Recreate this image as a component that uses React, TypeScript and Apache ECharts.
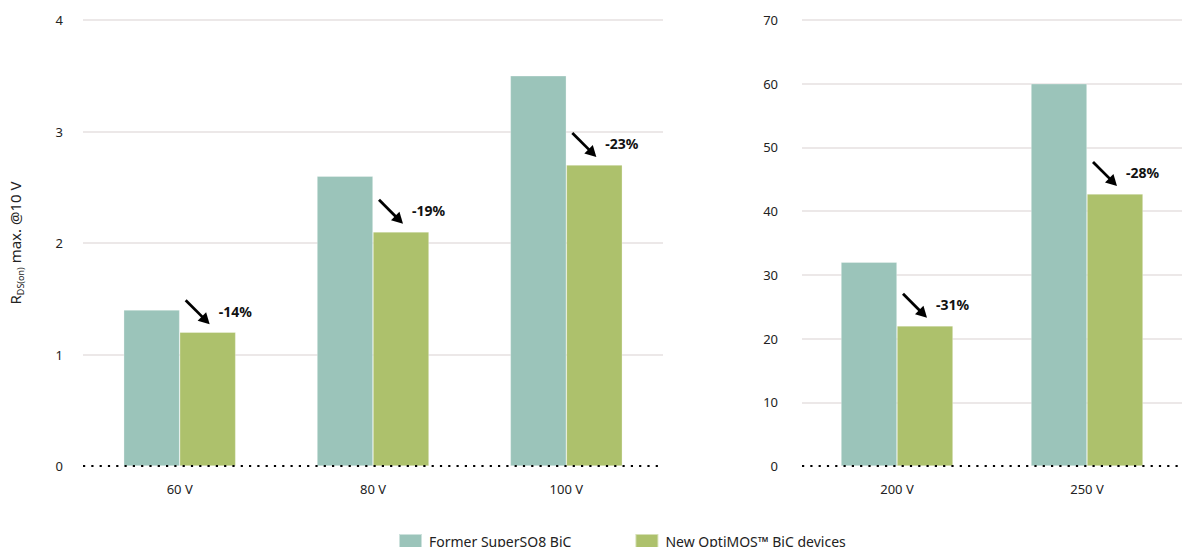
import React, { useEffect, useRef } from "react";
import * as echarts from "echarts";

const leftCategories = ["60 V", "80 V", "100 V"];
const leftFormer = [1.4, 2.6, 3.5];
const leftNew = [1.2, 2.1, 2.7];
const leftPct = ["-14%", "-19%", "-23%"];

const rightCategories = ["200 V", "250 V"];
const rightFormer = [32, 60];
const rightNew = [22, 42.7];
const rightPct = ["-31%", "-28%"];

const seriesNames = ["Former SuperSO8 BiC", "New OptiMOS™ BiC devices"];
const TEAL = "#9bc4ba";
const GREEN = "#adc16c";
const FONT = "Noto Sans";

function makeAnnotation(labels: string[], values: number[], axisIndex: number) {
  return {
    type: "custom",
    xAxisIndex: axisIndex,
    yAxisIndex: axisIndex,
    silent: true,
    z: 20,
    data: values.map((v, i) => [i, v]),
    renderItem: (params: any, api: any) => {
      const p = api.coord([api.value(0), api.value(1)]);
      const cx = p[0];
      const top = p[1];
      const x1 = cx + 6, y1 = top - 32;
      const x2 = cx + 30, y2 = top - 8;
      const dx = x2 - x1, dy = y2 - y1;
      const len = Math.sqrt(dx * dx + dy * dy);
      const ux = dx / len, uy = dy / len;
      const hl = 11, hw = 6;
      const bx = x2 - ux * hl, by = y2 - uy * hl;
      const px = -uy, py = ux;
      return {
        type: "group",
        children: [
          {
            type: "line",
            shape: { x1, y1, x2: bx + ux * 1, y2: by + uy * 1 },
            style: { stroke: "#000", lineWidth: 2.8 },
          },
          {
            type: "polygon",
            shape: {
              points: [
                [x2, y2],
                [bx + px * hw, by + py * hw],
                [bx - px * hw, by - py * hw],
              ],
            },
            style: { fill: "#000" },
          },
          {
            type: "text",
            x: cx + 39,
            y: top - 21,
            style: {
              text: labels[params.dataIndex],
              fill: "#111",
              font: `bold 14px "${FONT}"`,
              verticalAlign: "middle",
              align: "left",
            },
          },
        ],
      };
    },
  };
}

export default function App() {
  const ref = useRef<HTMLDivElement>(null);
  useEffect(() => {
    if (!ref.current) return;
    const chart = echarts.init(ref.current, null, { renderer: "svg" });
    const xAxisCommon = {
      type: "category",
      z: 10,
      axisTick: { show: false },
      axisLine: {
        show: true,
        lineStyle: { color: "#000", width: 2.2, type: [2.2, 6.1], cap: "butt" },
      },
      axisLabel: { color: "#222", fontSize: 13, fontFamily: FONT, margin: 16 },
    };
    const yAxisCommon = {
      type: "value",
      min: 0,
      axisLine: { show: false },
      axisTick: { show: false },
      splitLine: { show: true, showMinLine: false, lineStyle: { color: "#ece8e8", width: 2 } },
      axisLabel: { color: "#222", fontSize: 13, fontFamily: FONT, margin: 20 },
    };
    const barCommon = {
      type: "bar",
      barWidth: 56,
      barGap: "0%",
      itemStyle: { borderColor: "rgba(255,255,255,0.5)", borderWidth: 0.6 },
    };
    chart.setOption({
      animation: false,
      backgroundColor: "#fff",
      textStyle: { fontFamily: FONT },
      grid: [
        { left: 83, top: 20, width: 580, height: 446 },
        { left: 802, top: 20, width: 388, height: 446 },
      ],
      legend: {
        left: 393,
        top: 528,
        itemWidth: 23,
        itemHeight: 14,
        itemGap: 63,
        icon: "rect",
        data: seriesNames,
        textStyle: { fontSize: 14, color: "#222", fontFamily: FONT, padding: [0, 0, 0, 2] },
      },
      xAxis: [
        { ...xAxisCommon, gridIndex: 0, data: leftCategories },
        { ...xAxisCommon, gridIndex: 1, data: rightCategories },
      ],
      yAxis: [
        {
          ...yAxisCommon,
          gridIndex: 0,
          max: 4,
          interval: 1,
          name: "{r|R}{s|DS(on)}{r| max. @10 V}",
          nameLocation: "middle",
          nameRotate: 90,
          nameGap: 58,
          nameTextStyle: {
            rich: {
              r: { fontSize: 15, fontFamily: FONT, color: "#222", lineHeight: 20 },
              s: { fontSize: 9, fontFamily: FONT, color: "#222", lineHeight: 20, verticalAlign: "bottom", padding: [6, 0, 0, 0] },
            },
          },
        },
        { ...yAxisCommon, gridIndex: 1, max: 70, interval: 10, axisLabel: { ...yAxisCommon.axisLabel, margin: 24 } },
      ],
      series: [
        { ...barCommon, name: seriesNames[0], xAxisIndex: 0, yAxisIndex: 0, data: leftFormer, itemStyle: { ...barCommon.itemStyle, color: TEAL } },
        { ...barCommon, name: seriesNames[1], xAxisIndex: 0, yAxisIndex: 0, data: leftNew, itemStyle: { ...barCommon.itemStyle, color: GREEN } },
        { ...barCommon, name: seriesNames[0], xAxisIndex: 1, yAxisIndex: 1, data: rightFormer, itemStyle: { ...barCommon.itemStyle, color: TEAL } },
        { ...barCommon, name: seriesNames[1], xAxisIndex: 1, yAxisIndex: 1, data: rightNew, itemStyle: { ...barCommon.itemStyle, color: GREEN } },
        makeAnnotation(leftPct, leftNew, 0),
        makeAnnotation(rightPct, rightNew, 1),
      ],
    });
    return () => chart.dispose();
  }, []);
  return (
    <div
      ref={ref}
      style={{ position: "absolute", left: 0, top: 0, width: 1182, height: 547, overflow: "hidden" }}
    />
  );
}
